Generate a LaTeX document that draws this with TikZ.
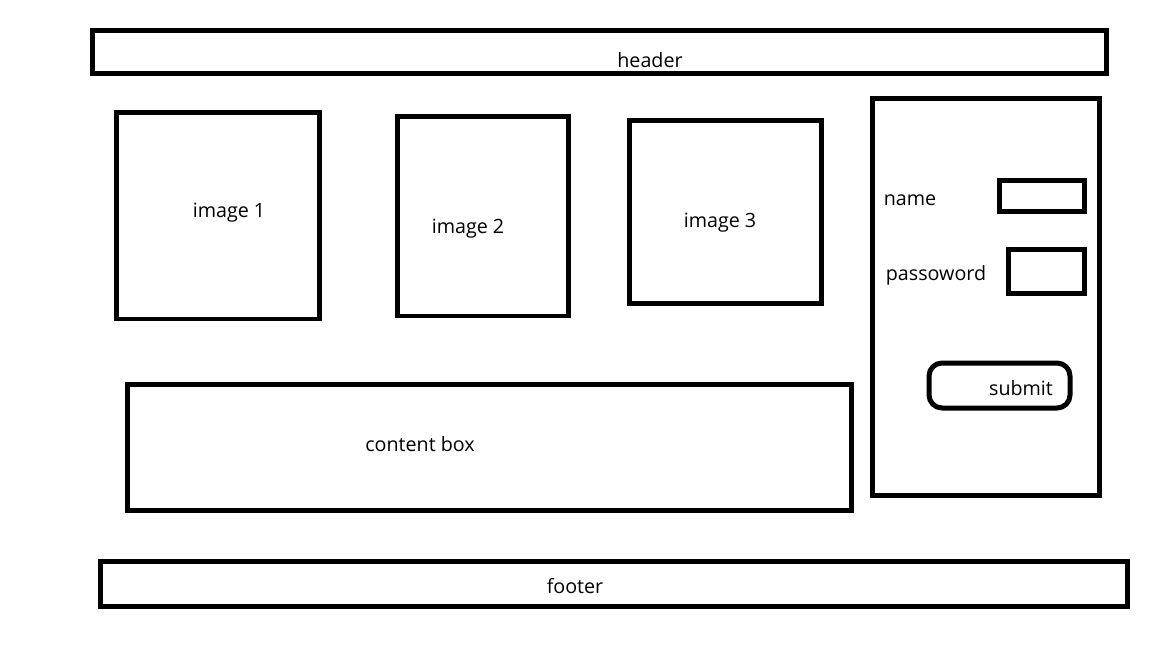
\documentclass[tikz,border=0pt]{standalone}
\usepackage{fontspec}
\setmainfont{Open Sans}
\begin{document}
\begin{tikzpicture}[x=0.02cm,y=-0.02cm,
    box/.style={draw,line width=0.1cm},
    lbl/.style={font=\fontsize{11.2}{13}\selectfont,inner sep=0pt}]
    \useasboundingbox (0,0) rectangle (1152,648);

    % HEADER
    \draw[box] (92,31) rectangle (1106,74);
    \node[lbl] (header) at (650,60) {header};

    % IMAGES
    \draw[box] (116,113) rectangle (319,319);
    \node[lbl] (img1) at (229,213) {image 1};
    \draw[box] (397,117) rectangle (568,316);
    \node[lbl] (img2) at (468,229) {image 2};
    \draw[box] (629,121) rectangle (821,304);
    \node[lbl] (img3) at (720,223) {image 3};

    % LOGIN
    \draw[box] (872,99) rectangle (1099,495);
    \node[lbl] (name) at (910,200) {name};
    \draw[box] (999,181) rectangle (1084,212);
    \node[lbl] (pass) at (936,275) {passoword};
    \draw[box] (1008,250) rectangle (1084,294);
    \draw[box,rounded corners=0.26cm] (929,363) rectangle (1070,408);
    \node[lbl] (submit) at (1021,388) {submit};

    % CONTENT
    \draw[box] (127,384) rectangle (851,510);
    \node[lbl] (content) at (420,444) {content box};

    % FOOTER
    \draw[box] (100,561) rectangle (1127,606);
    \node[lbl] (footer) at (575,586) {footer};
\end{tikzpicture}
\end{document}
